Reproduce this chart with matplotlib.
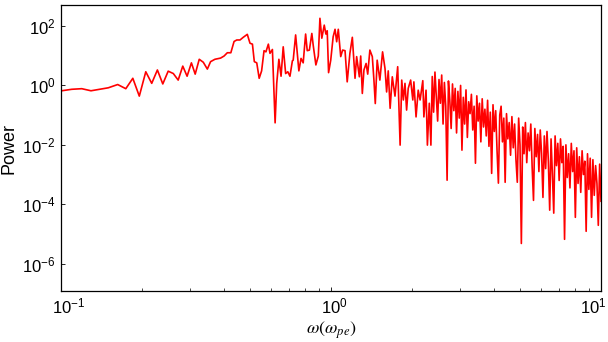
# %%
#! power spectrum, log-log (decade exponents)

import numpy as np
import matplotlib
matplotlib.use('Agg')
import matplotlib.pyplot as plt
import matplotlib.transforms as mtrans
from matplotlib.ticker import LogLocator, NullLocator, NullFormatter

#* sparse part, omega < ~2.3 (log10 omega, log10 power)
log_omega_low = [
    -1.005, -0.960, -0.923, -0.889, -0.856, -0.825, -0.790, -0.760, -0.734, -0.710,
    -0.686, -0.664, -0.643, -0.623, -0.603, -0.584, -0.566, -0.549, -0.533, -0.517,
    -0.503, -0.488, -0.473, -0.458, -0.446, -0.430, -0.409, -0.396, -0.384, -0.371,
    -0.359, -0.349, -0.337, -0.325, -0.310, -0.300, -0.291, -0.284, -0.275, -0.266,
    -0.257, -0.248, -0.241, -0.232, -0.226, -0.217, -0.207, -0.201, -0.193, -0.185,
    -0.177, -0.168, -0.160, -0.152, -0.143, -0.140, -0.131, -0.119, -0.111, -0.103,
    -0.094, -0.088, -0.080, -0.071, -0.066, -0.056, -0.047, -0.041, -0.034, -0.025,
    -0.019, -0.014, -0.009, -0.001, 0.008, 0.015, 0.021, 0.027, 0.036, 0.043,
    0.052, 0.060, 0.070, 0.079, 0.089, 0.095, 0.105, 0.110, 0.116, 0.122,
    0.130, 0.136, 0.144, 0.153, 0.159, 0.164, 0.171, 0.181, 0.191, 0.200,
    0.206, 0.212, 0.219, 0.227, 0.237, 0.247, 0.256, 0.262, 0.268, 0.274,
    0.280, 0.286, 0.295, 0.303, 0.307, 0.315, 0.323, 0.330, 0.340, 0.344,
    0.352, 0.357, 0.364,
]
log_power_low = [
    -0.19, -0.13, -0.11, -0.18, -0.13, -0.08, 0.03, -0.11, 0.24, -0.36,
    0.46, 0.07, 0.52, 0.05, 0.48, 0.40, 0.18, 0.65, 0.31, 0.76,
    0.38, 0.88, 0.78, 0.55, 0.80, 0.88, 0.92, 0.99, 1.10, 1.10,
    1.48, 1.53, 1.53, 1.62, 1.72, 1.42, 1.39, 0.80, 0.76, 0.24,
    0.49, 1.17, 1.13, 1.39, 1.08, 1.21, -1.26, 0.07, 0.88, 0.31,
    1.30, 0.40, 0.46, 0.31, 0.83, 0.85, 1.70, 0.49, 0.91, 0.76,
    1.73, 1.17, 1.19, 1.75, 1.36, 0.69, 0.99, 2.26, 1.59, 2.03,
    1.73, 1.84, 0.43, 0.85, 1.64, 1.89, 1.47, 1.89, 0.97, 1.19,
    1.17, 0.12, 1.08, 1.62, 0.24, 0.97, 0.29, 0.99, -0.27, 0.52,
    0.74, 0.38, 1.19, 0.97, 0.18, -0.61, 0.85, 0.18, 1.13, 0.57,
    -0.22, 0.49, -0.77, 0.29, -0.36, 0.63, -2.01, 0.18, -0.49, 0.07,
    -0.83, -0.10, 0.18, -0.49, 0.12, -1.06, -0.16, -0.49, 0.16, -1.06,
    -0.16, -2.01, -0.60,
]

#* dense part, omega ~2.3 .. 10
log_omega_high = [
    0.370, 0.375, 0.380, 0.385, 0.390, 0.395, 0.400, 0.405, 0.410, 0.415,
    0.420, 0.425, 0.430, 0.435, 0.440, 0.445, 0.450, 0.455, 0.460, 0.465,
    0.470, 0.475, 0.480, 0.485, 0.490, 0.495, 0.500, 0.505, 0.510, 0.515,
    0.520, 0.525, 0.530, 0.535, 0.540, 0.545, 0.550, 0.555, 0.560, 0.565,
    0.570, 0.575, 0.580, 0.585, 0.590, 0.595, 0.600, 0.605, 0.610, 0.615,
    0.620, 0.625, 0.630, 0.635, 0.640, 0.645, 0.650, 0.655, 0.660, 0.665,
    0.670, 0.675, 0.680, 0.685, 0.690, 0.695, 0.700, 0.705, 0.710, 0.715,
    0.720, 0.725, 0.730, 0.735, 0.740, 0.745, 0.750, 0.755, 0.760, 0.765,
    0.770, 0.775, 0.780, 0.785, 0.790, 0.795, 0.800, 0.805, 0.810, 0.815,
    0.820, 0.825, 0.830, 0.835, 0.840, 0.845, 0.850, 0.855, 0.860, 0.865,
    0.870, 0.875, 0.880, 0.885, 0.890, 0.895, 0.900, 0.905, 0.910, 0.915,
    0.920, 0.925, 0.930, 0.935, 0.940, 0.945, 0.950, 0.955, 0.960, 0.965,
    0.970, 0.975, 0.980, 0.985, 0.990, 0.995, 1.000,
]
log_power_high = [
    -2.01, 0.30, -0.90, 0.45, -0.40, -1.20, 0.20, -0.60, 0.35, -1.30,
    0.10, -0.70, -3.19, 0.15, -0.50, -1.45, 0.05, -0.85, -0.10, -1.60,
    -0.20, -1.10, 0.00, -2.18, -0.40, -1.30, -0.15, -1.75, -0.55, -0.95,
    -0.30, -1.50, -0.70, -2.62, -0.35, -1.20, -0.60, -1.90, -0.45, -1.40,
    -0.80, -1.70, -0.50, -2.05, -0.90, -2.96, -0.65, -1.55, -0.85, -2.20,
    -3.29, -1.00, -0.70, -1.90, -1.10, -3.26, -0.95, -1.80, -1.25, -2.35,
    -1.05, -2.10, -1.30, -2.50, -3.26, -1.10, -2.00, -5.32, -1.40, -2.30,
    -1.25, -2.60, -1.60, -2.20, -1.30, -2.75, -3.87, -1.45, -2.40, -1.65,
    -2.90, -1.50, -2.30, -3.77, -1.70, -2.80, -1.55, -2.55, -4.20, -1.80,
    -3.00, -4.30, -1.70, -2.70, -1.95, -3.20, -1.80, -2.60, -2.05, -5.18,
    -2.00, -3.10, -2.30, -3.45, -1.95, -2.90, -2.20, -4.44, -2.10, -3.30,
    -2.40, -3.60, -2.20, -3.00, -2.55, -4.91, -2.30, -3.50, -2.45, -4.44,
    -2.50, -3.70, -2.70, -3.30, -4.71, -2.65, -3.90,
]

omega = 10 ** np.array(log_omega_low + log_omega_high)
power = 10 ** np.array(log_power_low + log_power_high)


# %%
#! plot

plt.rcParams['font.family'] = ['Liberation Sans', 'DejaVu Sans']
plt.rcParams['axes.unicode_minus'] = False

fig = plt.figure(figsize=(6.08, 3.42), dpi=100)
ax = fig.add_axes([61 / 608, 1 - 291 / 342, 540 / 608, 286 / 342])  # left, bottom, width, height

ax.plot(omega, power, color='#ff0000', lw=1.2)

ax.set_xscale('log')
ax.set_yscale('log')
ax.set_xlim(0.1, 10)
ax.set_ylim(1.2e-7, 5.1e2)

ax.set_xticks([0.1, 1, 10])
ax.set_yticks([1e2, 1e0, 1e-2, 1e-4, 1e-6])
ax.yaxis.set_minor_locator(NullLocator())
ax.xaxis.set_minor_locator(LogLocator(base=10, subs=np.arange(2, 10)))
ax.xaxis.set_minor_formatter(NullFormatter())

ax.tick_params(which='major', direction='in', length=3, width=0.6, labelsize=12, pad=4)
ax.tick_params(which='minor', direction='in', length=2, width=0.5)
for s in ax.spines.values():
    s.set_linewidth(0.9)

ax.set_ylabel('Power', fontsize=13, labelpad=3)
ax.set_xlabel(r'$\omega(\omega_{pe})$', fontsize=13, math_fontfamily='stix', labelpad=2)

#* nudge x tick labels like the reference (first right, last kept inside)
fig.canvas.draw()
for lab, dx in zip(ax.get_xticklabels(), [8, 3, -8]):
    lab.set_transform(lab.get_transform() + mtrans.ScaledTranslation(dx / 100, 0, fig.dpi_scale_trans))

fig.savefig('out.png', dpi=100)
